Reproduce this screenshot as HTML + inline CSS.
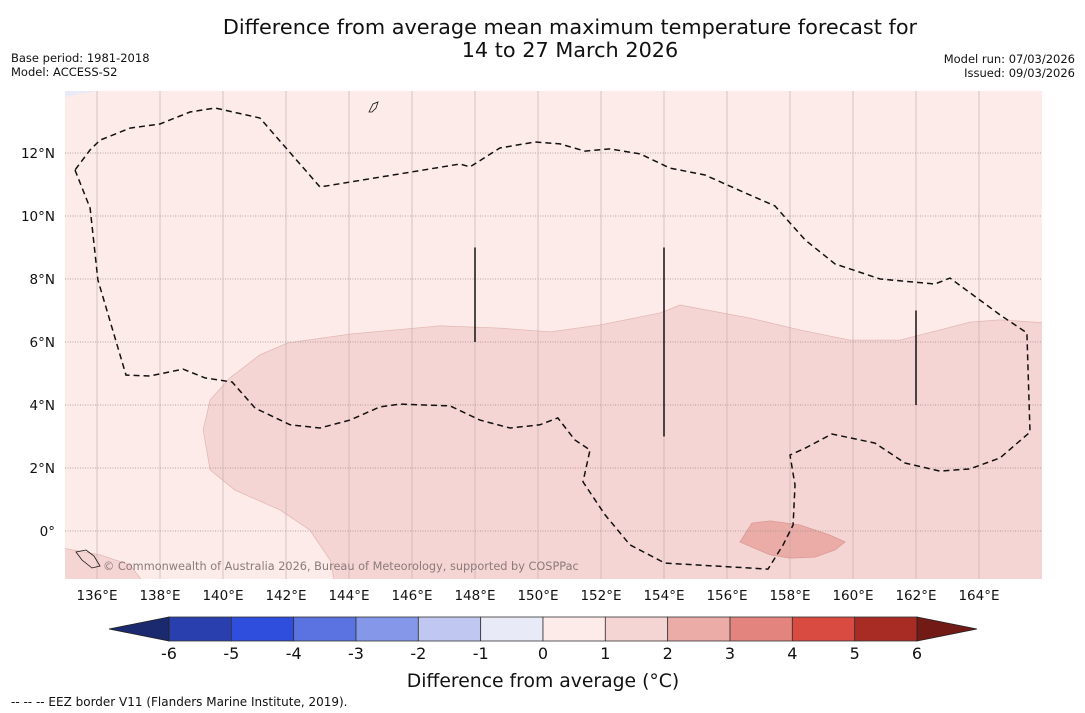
<!DOCTYPE html>
<html><head><meta charset="utf-8"><style>
body{margin:0;background:#fff;width:1085px;height:713px;overflow:hidden;font-family:"DejaVu Sans","Liberation Sans",sans-serif}
svg{display:block}
</style></head><body>
<svg id="chart" width="1085" height="713" xmlns="http://www.w3.org/2000/svg" font-family="DejaVu Sans, Liberation Sans, sans-serif">
<text x="570" y="34" font-size="20.8" text-anchor="middle" fill="#111">Difference from average mean maximum temperature forecast for</text>
<text x="570" y="57" font-size="20.8" text-anchor="middle" fill="#111">14 to 27 March 2026</text>
<text x="11" y="62" font-size="11.5" fill="#111">Base period: 1981-2018</text>
<text x="11" y="76" font-size="11.5" fill="#111">Model: ACCESS-S2</text>
<text x="1075" y="63" font-size="11.5" text-anchor="end" fill="#111">Model run: 07/03/2026</text>
<text x="1075" y="77" font-size="11.5" text-anchor="end" fill="#111">Issued: 09/03/2026</text>
<defs><clipPath id="mapclip"><rect x="65" y="91" width="977" height="488"/></clipPath></defs>
<g id="map" clip-path="url(#mapclip)"></g>
<g id="axes"></g>
<g id="cbar"></g>
<text x="103" y="570" font-size="11.3" fill="#8a7b7b">© Commonwealth of Australia 2026, Bureau of Meteorology, supported by COSPPac</text>
<text x="543" y="687" font-size="18.8" text-anchor="middle" fill="#111">Difference from average (°C)</text>
<text x="11" y="706" font-size="12" fill="#111">-- -- -- EEZ border V11 (Flanders Marine Institute, 2019).</text>
</svg>
<script>
const lonTicks=[136,138,140,142,144,146,148,150,152,154,156,158,160,162,164];
const latTicks=[0,2,4,6,8,10,12];
const cbLevels=[-6,-5,-4,-3,-2,-1,0,1,2,3,4,5,6];
const cbColors=["#2a3fae","#2f4edd","#5a73e0","#8597e8","#c0c8f1","#e8eaf8","#fcebe9","#f5d5d3","#ebaca8","#e4847e","#d94a41","#a82b24"];
const region1to2=[[166.2,6.6],[164.67,6.7],[163.71,6.63],[162.76,6.38],[161.49,6.06],[159.9,6.06],[158.32,6.38],[156.73,6.76],[154.51,7.17],[153.87,6.92],[151.97,6.54],[150.38,6.32],[148.79,6.44],[146.89,6.51],[144.03,6.25],[142.06,5.97],[141.17,5.59],[140.22,4.86],[139.59,4.16],[139.37,3.21],[139.59,1.94],[140.38,1.3],[141.81,0.67],[142.76,0.03],[143.4,-0.92],[143.56,-1.7],[166.2,-1.7]];
const regionSW=[[134.9,-0.54],[136.1,-0.76],[137.05,-1.08],[137.52,-1.7],[134.9,-1.7]];
const region2to3=[[156.41,-0.35],[156.79,0.25],[157.37,0.32],[158.32,0.19],[159.27,-0.13],[159.75,-0.35],[159.43,-0.6],[158.79,-0.83],[158.0,-0.86],[157.37,-0.76]];
const eez=[[135.3,11.46],[135.78,10.25],[136.03,7.97],[136.92,4.95],[137.68,4.92],[138.73,5.14],[139.43,4.86],[140.29,4.73],[141.02,3.9],[142.13,3.37],[143.08,3.27],[144.03,3.52],[144.98,3.94],[145.62,4.03],[147.21,3.97],[148.16,3.52],[149.11,3.27],[150.06,3.37],[150.63,3.59],[151.17,2.89],[151.65,2.57],[151.43,1.56],[152.13,0.51],[152.92,-0.44],[154.03,-1.02],[157.3,-1.21],[157.78,-0.44],[158.1,0.19],[158.16,1.46],[158.0,2.41],[158.48,2.63],[159.33,3.08],[160.7,2.79],[161.65,2.16],[162.76,1.9],[163.71,1.97],[164.67,2.32],[165.62,3.14],[165.52,6.29],[164.67,6.86],[163.08,8.03],[162.6,7.84],[160.86,8.0],[159.43,8.48],[158.48,9.24],[157.52,10.32],[156.29,10.86],[155.3,11.3],[154.19,11.52],[153.24,11.97],[152.29,12.13],[151.49,12.06],[150.7,12.29],[149.9,12.35],[148.79,12.16],[147.84,11.56],[147.52,11.65],[143.08,10.92],[141.17,13.11],[139.75,13.43],[138.95,13.3],[138.0,12.92],[137.05,12.79],[136.1,12.41],[135.78,12.1],[135.3,11.46]];
const segLines=[[148,9,6],[154,9,3],[162,7,4]];
const NS="http://www.w3.org/2000/svg";
const X=lon=>65.5+(lon-135)*31.5;
const Y=lat=>531-lat*31.5;
const CB=v=>169+(v+6)*(748/12);
function mk(tag,attrs,parent){const e=document.createElementNS(NS,tag);for(const k in attrs)e.setAttribute(k,attrs[k]);parent.appendChild(e);return e;}
const map=document.getElementById('map'),axes=document.getElementById('axes'),cb=document.getElementById('cbar');
const pts=a=>a.map(p=>X(p[0]).toFixed(1)+','+Y(p[1]).toFixed(1)).join(' ');
let e=mk('rect',{x:65,y:91,width:977,height:488,fill:cbColors[6]},map);


e=mk('polygon',{points:'65,91 95,91 65,97',fill:cbColors[5]},map);


e=mk('polygon',{points:pts(region1to2),fill:cbColors[7],stroke:'#e3b9b6','stroke-width':0.8},map);


e=mk('polygon',{points:pts(regionSW),fill:cbColors[7],stroke:'#e3b9b6','stroke-width':0.8},map);


e=mk('polygon',{points:pts(region2to3),fill:cbColors[8],stroke:'#d99a96','stroke-width':0.8},map);


lonTicks.forEach(l=>{
 let g=mk('line',{x1:X(l),x2:X(l),y1:91,y2:579,stroke:'#bba8a8','stroke-width':0.6},map);
 
 
 let t=mk('text',{x:X(l),y:600,'font-size':13.5,'text-anchor':'middle',fill:'#111'},axes);
 t.textContent=l+'°E';
 
 
});
latTicks.forEach(l=>{
 let g=mk('line',{x1:65,x2:1042,y1:Y(l),y2:Y(l),stroke:'#9e8a8a','stroke-width':0.8,'stroke-dasharray':'1,1.5'},map);
 
 
 let t=mk('text',{x:55,y:Y(l)+5,'font-size':13.5,'text-anchor':'end',fill:'#111'},axes);
 t.textContent=l===0?'0°':l+'°N';
 
 
});
e=mk('polyline',{points:pts(eez),fill:'none',stroke:'#111','stroke-width':1.5,'stroke-dasharray':'6,4'},map);


segLines.forEach(s=>{
 let l=mk('line',{x1:X(s[0]),x2:X(s[0]),y1:Y(s[1]),y2:Y(s[2]),stroke:'#111','stroke-width':1.5},map);
 
 
});
e=mk('path',{d:'M369,112 l4,-8 l5,-2 l-2,6 l-4,4 z M76,552 l10,-2 l8,6 l6,10 l-8,2 l-10,-8 z',fill:'none',stroke:'#111','stroke-width':0.8},map);


for(let i=0;i<cbColors.length;i++){
 let r=mk('rect',{x:CB(cbLevels[i]),y:617,width:CB(cbLevels[i+1])-CB(cbLevels[i]),height:24,fill:cbColors[i],stroke:'#333','stroke-width':0.8},cb);
 
 
}
e=mk('polygon',{points:'169,617 109,629 169,641',fill:'#1b2a6e',stroke:'#222','stroke-width':0.8},cb);


e=mk('polygon',{points:'917,617 977,629 917,641',fill:'#721a16',stroke:'#222','stroke-width':0.8},cb);


cbLevels.forEach(v=>{
 let t=mk('text',{x:CB(v),y:659,'font-size':16,'text-anchor':'middle',fill:'#111'},cb);
 t.textContent=v;
 
 
});
</script>
</body></html>
